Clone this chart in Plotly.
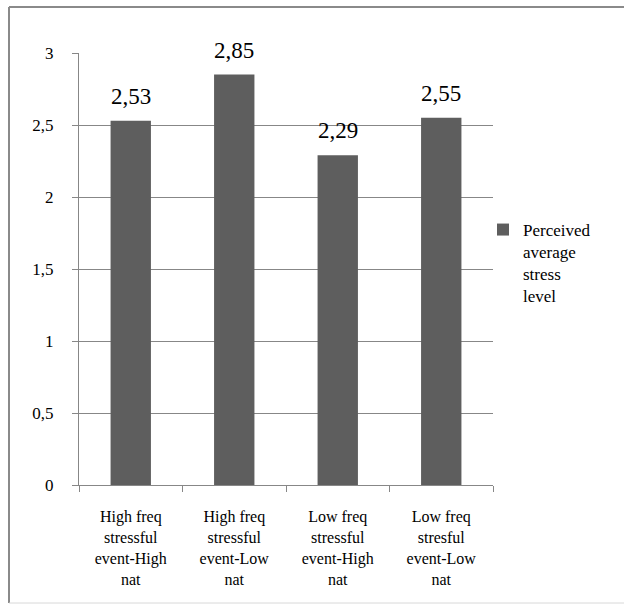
import plotly.graph_objects as go

# Chart data
categories = [
    "High freq<br>stressful<br>event-High<br>nat",
    "High freq<br>stressful<br>event-Low<br>nat",
    "Low freq<br>stressful<br>event-High<br>nat",
    "Low freq<br>stresful<br>event-Low<br>nat",
]
stress_level = [2.53, 2.85, 2.29, 2.55]
series_name = "Perceived<br>average<br>stress<br>level"

FONT = "'Times New Roman', 'Liberation Serif', serif"
GRID = "#878787"
BAR = "#5e5e5e"

W, H = 624, 604
L, R, T, B = 79, 131, 53, 119
pw, ph = W - L - R, H - T - B


def px_x(px):
    return (px - L) / pw


def px_y(py):
    return (H - B - py) / ph


fig = go.Figure()
fig.add_trace(go.Bar(
    x=categories,
    y=stress_level,
    name=series_name,
    marker=dict(color=BAR, line=dict(width=0)),
    width=0.39,
    showlegend=True,
))

# value labels above the bars
for c, v in zip(categories, stress_level):
    fig.add_annotation(
        x=c, y=v, text=f"{v:.2f}".replace(".", ","),
        showarrow=False, yanchor="bottom", yshift=10,
        font=dict(family=FONT, size=23, color="#000000"),
    )

# outer chart frame
frame = [
    (px_x(9), px_y(7), px_x(626), px_y(7), "#8a8a8a", 2),
    (px_x(9), px_y(7), px_x(9), px_y(603), "#8a8a8a", 2),
    (px_x(9), px_y(603), px_x(626), px_y(603), "#d8d8d8", 1),
]
for x0, y0, x1, y1, col, w in frame:
    fig.add_shape(type="line", xref="paper", yref="paper",
                  x0=x0, y0=y0, x1=x1, y1=y1,
                  line=dict(color=col, width=w))

fig.update_layout(
    width=W, height=H,
    margin=dict(l=L, r=R, t=T, b=B, pad=0),
    paper_bgcolor="white", plot_bgcolor="white",
    separators=",.",
    font=dict(family=FONT, color="#000000"),
    showlegend=True,
    legend=dict(
        x=px_x(483), y=px_y(212), xanchor="left", yanchor="top",
        valign="top", font=dict(family=FONT, size=17, color="#000000"),
        itemwidth=30, tracegroupgap=0, bgcolor="rgba(0,0,0,0)",
    ),
    xaxis=dict(
        showline=True, linecolor=GRID, linewidth=1,
        ticks="outside", ticklen=6, tickcolor=GRID, tickson="boundaries",
        tickfont=dict(family=FONT, size=16, color="#000000"),
        ticklabelstandoff=17,
        showgrid=False,
    ),
    yaxis=dict(
        range=[0, 3], dtick=0.5, tick0=0,
        showline=True, linecolor=GRID, linewidth=1,
        ticks="outside", ticklen=6, tickcolor=GRID,
        showgrid=True, gridcolor=GRID, gridwidth=1,
        zeroline=False,
        tickfont=dict(family=FONT, size=17, color="#000000"),
        ticklabelstandoff=15,
    ),
)

fig.write_html("out.html")
